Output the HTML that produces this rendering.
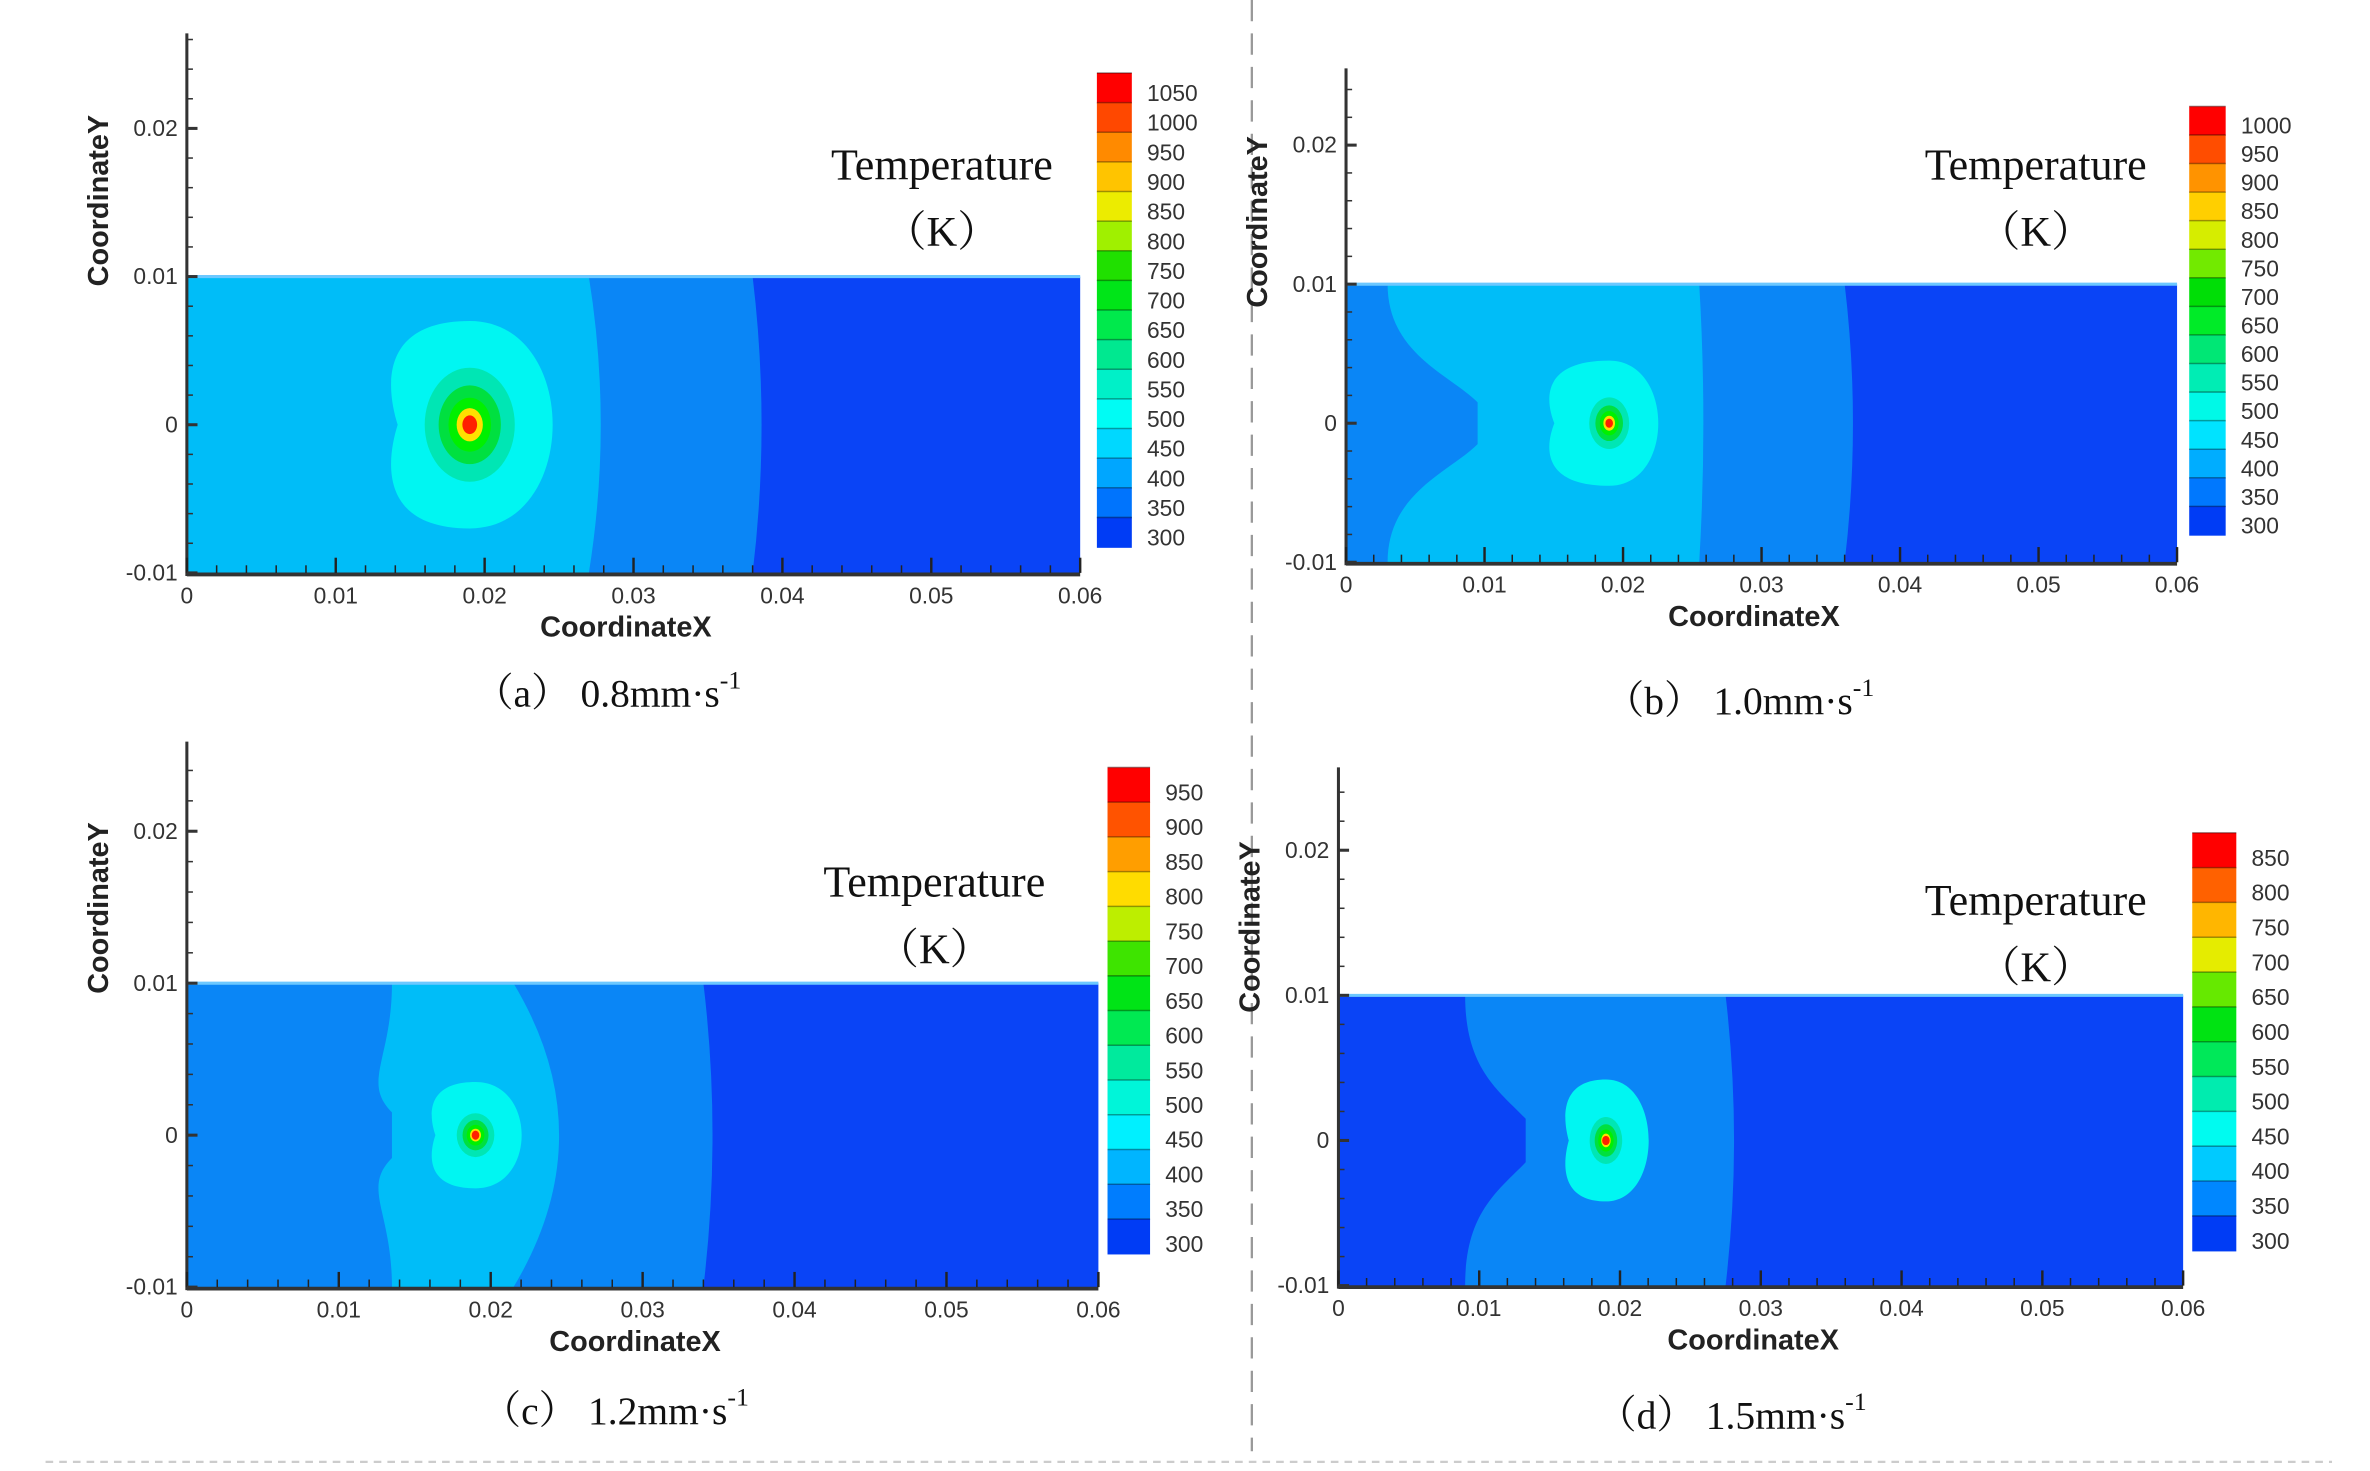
<!DOCTYPE html>
<html><head><meta charset="utf-8"><style>
html,body{margin:0;padding:0;background:#fff;width:2370px;height:1471px;overflow:hidden}
svg{display:block}
.tk{font-family:"Liberation Sans",sans-serif;font-size:15px;fill:#333}
.ax{font-family:"Liberation Sans",sans-serif;font-size:19px;font-weight:bold;fill:#222}
.sf{font-family:"Liberation Serif","Noto Serif CJK SC",serif;fill:#111}
</style></head><body>
<svg id="fig" width="2370" height="1471" viewBox="0 0 1560 968" preserveAspectRatio="none" xmlns="http://www.w3.org/2000/svg">
<line x1="824" y1="0" x2="824" y2="955" stroke="#999" stroke-width="1.5" stroke-dasharray="14,8"/>
<line x1="30" y1="962" x2="1535" y2="962" stroke="#ccc" stroke-width="1.5" stroke-dasharray="5,4"/>
</svg>
<script>
// ---- data ----
const panelLabels = ['a','b','c','d'];
const speeds = ['0.8','1.0','1.2','1.5'];
const legendMax = [1050, 1000, 950, 850];
const legendMin = [300, 300, 300, 300];
const outerIsotherm = [0.038, 0.036, 0.034, 0.0275];   // 350K boundary x
const midIsoTop = [0.027, 0.0255, 0.0215, null];     // 400K boundary at edges
const midIsoMid = [0.0278, 0.0258, 0.0245, null];    // 400K boundary at y=0
const leftNotchTop = [null, 0.003, 0.0135, 0.009];
const leftNotchMid = [null, 0.0095, 0.0135, 0.0133];
const sourceX = [0.019, 0.019, 0.019, 0.019];
const blobRx = [0.0055, 0.0035, 0.003, 0.003];
const blobRy = [0.007, 0.0045, 0.0035, 0.0042];
const blobLeft = [0.0135, 0.0145, 0.016, 0.016];
const coreScale = [1, 0.75, 0.75, 0.7];
const xTicks = [0, 0.01, 0.02, 0.03, 0.04, 0.05, 0.06];
const yTicks = [-0.01, 0, 0.01, 0.02];

// ---- layout (pixel frames) ----
const frames = [
 {x0:123,x1:711,y0:377,y1:182,top:22,cb:[722,745,48,360],title:[620,118],cap:[400,465]},
 {x0:886,x1:1433,y0:370,y1:187,top:45,cb:[1441,1465,70,352],title:[1340,118],cap:[1145,470]},
 {x0:123,x1:723,y0:847,y1:647,top:488,cb:[729,757,505,825],title:[615,590],cap:[405,937]},
 {x0:881,x1:1437,y0:846,y1:655,top:505,cb:[1443,1472,548,823],title:[1340,602],cap:[1140,940]}
];
const C300='#0a44f6', C350='#0a86f6', C400='#00bdf8', C450='#00f6f2';
const leftCol=[C400,C350,C350,C300], midCol=[C400,C400,C400,C350];
const svg=document.getElementById('fig');
const NS='http://www.w3.org/2000/svg';
function mk(t,a,p){const e=document.createElementNS(NS,t);for(const k in a)e.setAttribute(k,a[k]);(p||svg).appendChild(e);return e;}
const stops=[[255,0,0],[255,90,0],[255,170,0],[255,235,0],[160,240,0],[0,220,0],[0,235,40],[0,230,130],[0,240,200],[0,255,255],[0,190,255],[0,130,255],[0,60,245]];
function pal(f){const p=f*(stops.length-1),i=Math.min(Math.floor(p),stops.length-2),t=p-i;const a=stops[i],b=stops[i+1];return 'rgb('+a.map((v,k)=>Math.round(v+(b[k]-v)*t)).join(',')+')';}

frames.forEach((F,i)=>{
 const X=v=>F.x0+(v/0.06)*(F.x1-F.x0);
 const Y=v=>F.y0+((v+0.01)/0.02)*(F.y1-F.y0);
 const g=mk('g',{});
 
 
 const r1=mk('rect',{x:X(0),y:Y(0.01),width:X(0.06)-X(0),height:Y(-0.01)-Y(0.01),fill:C300},g);
 
 
 const ox=outerIsotherm[i];
 const p2=mk('path',{d:`M${X(0)},${Y(0.01)} L${X(ox)},${Y(0.01)} Q${X(ox+0.0012)},${Y(0)} ${X(ox)},${Y(-0.01)} L${X(0)},${Y(-0.01)}Z`,fill:midIsoTop[i]===null?midCol[i]:C350},g);
 
 
 if(midIsoTop[i]!==null){
  const t=midIsoTop[i],m=midIsoMid[i];
  const p3=mk('path',{d:`M${X(0)},${Y(0.01)} L${X(t)},${Y(0.01)} Q${X(2*m-t)},${Y(0)} ${X(t)},${Y(-0.01)} L${X(0)},${Y(-0.01)}Z`,fill:midCol[i]},g);
  
  
 }
 if(leftNotchTop[i]!==null){
  const t=leftNotchTop[i],m=leftNotchMid[i];
  const yy=0.0035;
  const p4=mk('path',{d:`M${X(0)},${Y(0.01)} L${X(t)},${Y(0.01)} C${X(t)},${Y(0.005)} ${X(m-0.002)},${Y(yy)} ${X(m)},${Y(0.0015)} L${X(m)},${Y(-0.0015)} C${X(m-0.002)},${Y(-yy)} ${X(t)},${Y(-0.005)} ${X(t)},${Y(-0.01)} L${X(0)},${Y(-0.01)}Z`,fill:leftCol[i]},g);
  
  
 }
 const cx=X(sourceX[i]),cy=Y(0),rx=X(blobRx[i])-X(0),ry=Y(0)-Y(blobRy[i]);
 const lx=X(blobLeft[i]);
 const b=mk('path',{d:`M${cx},${cy-ry} C${cx+rx*1.35},${cy-ry} ${cx+rx*1.35},${cy+ry} ${cx},${cy+ry} C${lx-(cx-lx)*0.15},${cy+ry} ${lx},${cy+ry*0.3} ${lx+(cx-lx)*0.12},${cy} C${lx},${cy-ry*0.3} ${lx-(cx-lx)*0.15},${cy-ry} ${cx},${cy-ry}Z`,fill:C450},g);
 
 
 const layers=[['#00e6b4',0.55],['#00e040',0.38],['#00f000',0.26],['#ffe000',0.16],['#ff2000',0.09]];
 layers.forEach((L,k)=>{const s=coreScale[i];const e=mk('ellipse',{cx:cx,cy:cy,rx:Math.max(rx*L[1]*s,2.5),ry:Math.max(ry*L[1]*s,3),fill:L[0]},g);
  
  });
 mk('line',{x1:X(0),y1:Y(0.01),x2:X(0.06),y2:Y(0.01),stroke:'#6cc8ff','stroke-width':2},g);
 const ya=mk('line',{x1:F.x0,y1:F.top,x2:F.x0,y2:F.y0+2,stroke:'#333','stroke-width':2},g);
 
 
 const xa=mk('line',{x1:F.x0,y1:F.y0+1,x2:F.x1,y2:F.y0+1,stroke:'#333','stroke-width':2.5},g);
 
 
 for(let v=0;v<=0.0601;v+=0.002){const maj=Math.abs(v/0.01-Math.round(v/0.01))<1e-6;mk('line',{x1:X(v),y1:F.y0,x2:X(v),y2:F.y0-(maj?10:5),stroke:'#222','stroke-width':maj?1.6:1},g);}
 for(let v=-0.01;Y(v)>=F.top;v+=0.002){const maj=Math.abs(v/0.01-Math.round(v/0.01))<1e-6;mk('line',{x1:F.x0,y1:Y(v),x2:F.x0+(maj?7:4),y2:Y(v),stroke:'#333','stroke-width':maj?2:1},g);}
 xTicks.forEach(v=>{const t=mk('text',{x:X(v),y:F.y0+20,'text-anchor':'middle',class:'tk'},g);t.textContent=v===0?'0':String(v);
  
  });
 yTicks.forEach(v=>{const t=mk('text',{x:F.x0-6,y:Y(v)+5,'text-anchor':'end',class:'tk'},g);t.textContent=v===0?'0':String(v);
  
  });
 const xt=mk('text',{x:(F.x0+F.x1)/2-5,y:F.y0+42,'text-anchor':'middle',class:'ax'},g);xt.textContent='CoordinateX';
 
 
 const ytx=F.x0-52,yty=(F.top+F.y1)/2+30;
 const yt=mk('text',{x:ytx,y:yty,'text-anchor':'middle',class:'ax',transform:`rotate(-90 ${ytx} ${yty})`},g);yt.textContent='CoordinateY';
 
 
 const [cx0,cx1,cy0,cy1]=F.cb;
 const n=Math.round((legendMax[i]-legendMin[i])/50)+1;
 const h=(cy1-cy0)/n;
 for(let k=0;k<n;k++){const r=mk('rect',{x:cx0,y:cy0+k*h,width:cx1-cx0,height:h+0.5,fill:pal(k/(n-1))},g);
  
  
  mk('line',{x1:cx0,y1:cy0+k*h,x2:cx1,y2:cy0+k*h,stroke:'rgba(0,0,0,0.35)','stroke-width':1},g);
  const t=mk('text',{x:cx1+10,y:cy0+(k+0.95)*h,class:'tk','font-size':'14'},g);t.textContent=legendMax[i]-50*k;
  
  }
 const tt=mk('text',{x:F.title[0],y:F.title[1],'text-anchor':'middle',class:'sf','font-size':'29'},g);tt.textContent='Temperature';
 
 
 const tk=mk('text',{x:F.title[0],y:F.title[1]+44,'text-anchor':'middle',class:'sf','font-size':'28'},g);tk.textContent='（K）';
 
 
 const cp=mk('text',{x:F.cap[0],y:F.cap[1],'text-anchor':'middle',class:'sf','font-size':'26'},g);
 cp.textContent='（'+panelLabels[i]+'） '+speeds[i]+'mm·s';
 const sup=mk('tspan',{dy:-12,'font-size':'17'},cp);sup.textContent='-1';
 
 
});
</script>
</body></html>
